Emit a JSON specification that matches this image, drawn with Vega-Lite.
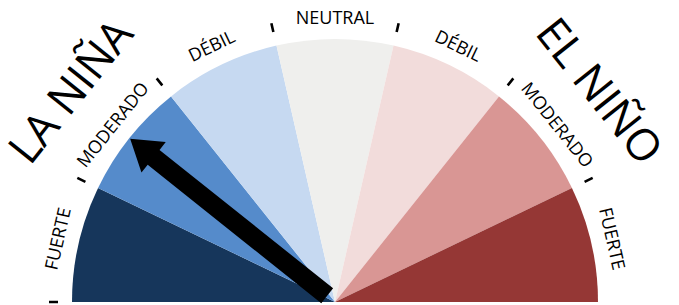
{
  "$schema": "https://vega.github.io/schema/vega-lite/v6.json",
  "width": 670,
  "height": 302,
  "autosize": {"type": "none"},
  "padding": {"left": 0, "top": 0, "right": 9, "bottom": 3},
  "background": "white",
  "config": {"view": {"stroke": null}},
  "datasets": {
    "segments": [
      {"cat": "La Niña fuerte", "label": "FUERTE", "lo": 0, "hi": 1, "mid": 0.5},
      {"cat": "La Niña moderado", "label": "MODERADO", "lo": 1, "hi": 2, "mid": 1.5},
      {"cat": "La Niña débil", "label": "DÉBIL", "lo": 2, "hi": 3, "mid": 2.5},
      {"cat": "Neutral", "label": "NEUTRAL", "lo": 3, "hi": 4, "mid": 3.5},
      {"cat": "El Niño débil", "label": "DÉBIL", "lo": 4, "hi": 5, "mid": 4.5},
      {"cat": "El Niño moderado", "label": "MODERADO", "lo": 5, "hi": 6, "mid": 5.5},
      {"cat": "El Niño fuerte", "label": "FUERTE", "lo": 6, "hi": 7, "mid": 6.5}
    ],
    "ticks": [{"b": 0}, {"b": 1}, {"b": 2}, {"b": 3}, {"b": 4}, {"b": 5}, {"b": 6}],
    "titles": [{"title": "LA NIÑA", "pos": 1.5}, {"title": "EL NIÑO", "pos": 5.5}],
    "needle": [{"state": "La Niña moderado", "value": 1.5}]
  },
  "layer": [
    {
      "data": {"name": "segments"},
      "mark": {"type": "arc", "radius": 263, "x": {"expr": "width/2"}, "y": "height"},
      "encoding": {
        "theta": {"field": "lo", "type": "quantitative", "scale": {"domain": [0, 7], "range": [-1.5707963, 1.5707963]}},
        "theta2": {"field": "hi"},
        "color": {
          "field": "cat", "type": "nominal", "legend": null,
          "scale": {
            "domain": ["La Niña fuerte", "La Niña moderado", "La Niña débil", "Neutral", "El Niño débil", "El Niño moderado", "El Niño fuerte"],
            "range": ["#16365B", "#558BCB", "#C6D9F1", "#EFEFED", "#F2DCDB", "#D99694", "#953735"]
          }
        }
      }
    },
    {
      "data": {"name": "ticks"},
      "mark": {"type": "arc", "radius": 286, "radius2": 277, "x": {"expr": "width/2"}, "y": "height", "stroke": "black", "strokeWidth": 2.6, "fill": null, "strokeCap": "butt"},
      "encoding": {
        "theta": {"field": "b", "type": "quantitative", "scale": {"domain": [0, 7], "range": [-1.5707963, 1.5707963]}},
        "theta2": {"field": "b"}
      }
    },
    {
      "data": {"name": "segments"},
      "mark": {"type": "text", "radius": 283, "x": {"expr": "width/2"}, "y": "height", "font": "Open Sans", "fontSize": 18, "align": "center", "baseline": "middle", "color": "#000"},
      "encoding": {
        "theta": {"field": "mid", "type": "quantitative", "stack": false, "scale": {"domain": [0, 7], "range": [-1.5707963, 1.5707963]}},
        "angle": {"field": "mid", "type": "quantitative", "scale": {"domain": [0, 7], "range": [-90, 90]}},
        "text": {"field": "label"}
      }
    },
    {
      "data": {"name": "titles"},
      "mark": {"type": "text", "radius": 336, "x": {"expr": "width/2"}, "y": "height", "font": "Open Sans", "fontSize": 44, "align": "center", "baseline": "middle", "color": "#000"},
      "encoding": {
        "theta": {"field": "pos", "type": "quantitative", "stack": false, "scale": {"domain": [0, 7], "range": [-1.5707963, 1.5707963]}},
        "angle": {"field": "pos", "type": "quantitative", "scale": {"domain": [0, 7], "range": [-90, 90]}},
        "text": {"field": "title"}
      }
    },
    {
      "data": {"name": "needle"},
      "mark": {"type": "point", "shape": "M-9.5,-10L-9.5,-232L-19.5,-232L0,-262L19.5,-232L9.5,-232L9.5,-10Z", "size": 4, "filled": true, "opacity": 1, "color": "black", "strokeWidth": 0, "x": {"expr": "width/2"}, "y": "height"},
      "encoding": {
        "angle": {"field": "value", "type": "quantitative", "scale": {"domain": [0, 7], "range": [-90, 90]}}
      }
    }
  ]
}
